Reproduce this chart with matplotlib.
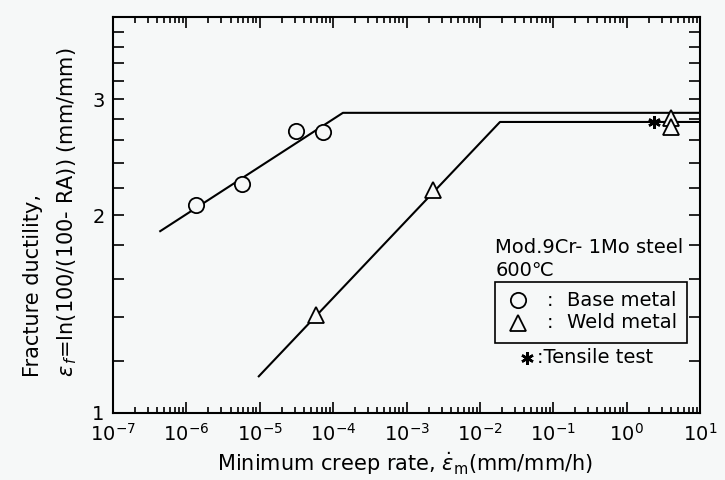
import matplotlib
matplotlib.use("Agg")
import matplotlib.pyplot as plt
from matplotlib.ticker import FixedLocator, LogLocator, NullFormatter, FixedFormatter
import numpy as np

plt.rcParams['font.family'] = ['DejaVu Sans']
plt.rcParams['mathtext.fontset'] = 'dejavusans'

# Data
base_x = [1.35e-6, 5.7e-6, 3.1e-5, 7.3e-5]
base_y = [2.07, 2.23, 2.68, 2.67]
weld_x = [5.8e-5, 2.3e-3, 4.0, 4.0]
weld_y = [1.41, 2.18, 2.81, 2.72]
tensile_x = [2.35]
tensile_y = [2.77]
base_line_x = [4.4e-7, 1.36e-4, 10.0]
base_line_y = [1.89, 2.86, 2.86]
weld_line_x = [9.7e-6, 1.88e-2, 10.0]
weld_line_y = [1.137, 2.77, 2.77]

x_major = [1e-7, 1e-6, 1e-5, 1e-4, 1e-3, 1e-2, 1e-1, 1e0, 1e1]
x_labels = [r'$10^{-7}$', r'$10^{-6}$', r'$10^{-5}$', r'$10^{-4}$', r'$10^{-3}$',
            r'$10^{-2}$', r'$10^{-1}$', r'$10^{0}$', r'$10^{1}$']
y_ticks = [1.0, 1.2, 1.4, 1.6, 1.8, 2.0, 2.2, 2.4, 2.6, 2.8, 3.0, 3.2, 3.4, 3.6, 3.8, 4.0]
y_labeled = {1.0: '1', 2.0: '2', 3.0: '3'}

bg = '#f6f8f8'
fig = plt.figure(figsize=(7.25, 4.8), dpi=100, facecolor=bg)
ax = fig.add_axes([113/725, 1-413/480, 587/725, 396/480], facecolor=bg)
ax.set_xscale('log')
ax.set_yscale('log')
ax.set_xlim(1e-7, 1e1)
ax.set_ylim(1.0, 4.0)

ax.plot(base_line_x, base_line_y, color='black', lw=1.5, zorder=2)
ax.plot(weld_line_x, weld_line_y, color='black', lw=1.5, zorder=2)
ax.plot(base_x, base_y, linestyle='none', marker='o', ms=11, mfc=bg, mec='black', mew=1.3, zorder=3)
ax.plot(weld_x, weld_y, linestyle='none', marker='^', ms=12, mfc=bg, mec='black', mew=1.3, zorder=3)
ax.plot(tensile_x, tensile_y, linestyle='none', marker=(6, 2, 0), ms=9, mec='black', mew=1.8, zorder=3)

ax.xaxis.set_major_locator(FixedLocator(x_major))
ax.xaxis.set_major_formatter(FixedFormatter(x_labels))
ax.xaxis.set_minor_locator(LogLocator(base=10, subs=np.arange(2, 10), numticks=20))
ax.xaxis.set_minor_formatter(NullFormatter())
ax.yaxis.set_major_locator(FixedLocator(y_ticks))
ax.yaxis.set_major_formatter(FixedFormatter([y_labeled.get(v, '') for v in y_ticks]))
ax.yaxis.set_minor_locator(FixedLocator([]))
ax.yaxis.set_minor_formatter(NullFormatter())

ax.tick_params(which='both', direction='in', top=True, right=True, labelsize=14, width=1.2)
ax.tick_params(axis='x', which='major', length=8, pad=7)
ax.tick_params(axis='x', which='minor', length=4)
ax.tick_params(axis='y', which='major', length=8, pad=6)
for s in ax.spines.values():
    s.set_linewidth(1.5)

# Axis labels
fig.text(33/725, 1-377/480, 'Fracture ductility,', rotation=90, ha='center', va='bottom', fontsize=15)
fig.text(67/725, 1-377/480, r'$\varepsilon_{\,f}$=ln(100/(100- RA)) (mm/mm)', rotation=90,
         ha='center', va='bottom', fontsize=15)
fig.text(405/725, 1-464/480, r'Minimum creep rate, $\dot{\varepsilon}_{\rm m}$(mm/mm/h)',
         ha='center', va='center', fontsize=15)

# Annotation and legend
ax.text(0.651, 0.417, 'Mod.9Cr- 1Mo steel', transform=ax.transAxes, fontsize=14, va='center', ha='left')
ax.text(0.651, 0.361, '600\u2103', transform=ax.transAxes, fontsize=14, va='center', ha='left')
ax.add_patch(plt.Rectangle((0.651, 0.177), 0.327, 0.154, transform=ax.transAxes,
                           fill=False, edgecolor='black', lw=1.2))
ax.plot([0.690], [0.285], transform=ax.transAxes, marker='o', ms=11, mfc=bg, mec='black', mew=1.3,
        linestyle='none', clip_on=False)
ax.plot([0.690], [0.228], transform=ax.transAxes, marker='^', ms=12, mfc=bg, mec='black', mew=1.3,
        linestyle='none', clip_on=False)
ax.text(0.744, 0.285, ':', transform=ax.transAxes, fontsize=14, va='center', ha='center')
ax.text(0.744, 0.228, ':', transform=ax.transAxes, fontsize=14, va='center', ha='center')
ax.text(0.773, 0.285, 'Base metal', transform=ax.transAxes, fontsize=14, va='center', ha='left')
ax.text(0.773, 0.228, 'Weld metal', transform=ax.transAxes, fontsize=14, va='center', ha='left')
ax.plot([0.705], [0.139], transform=ax.transAxes, marker=(6, 2, 0), ms=9, mec='black', mew=1.8,
        linestyle='none', clip_on=False)
ax.text(0.722, 0.139, ':Tensile test', transform=ax.transAxes, fontsize=14, va='center', ha='left')

fig.savefig('out.png', dpi=100, facecolor=bg)
